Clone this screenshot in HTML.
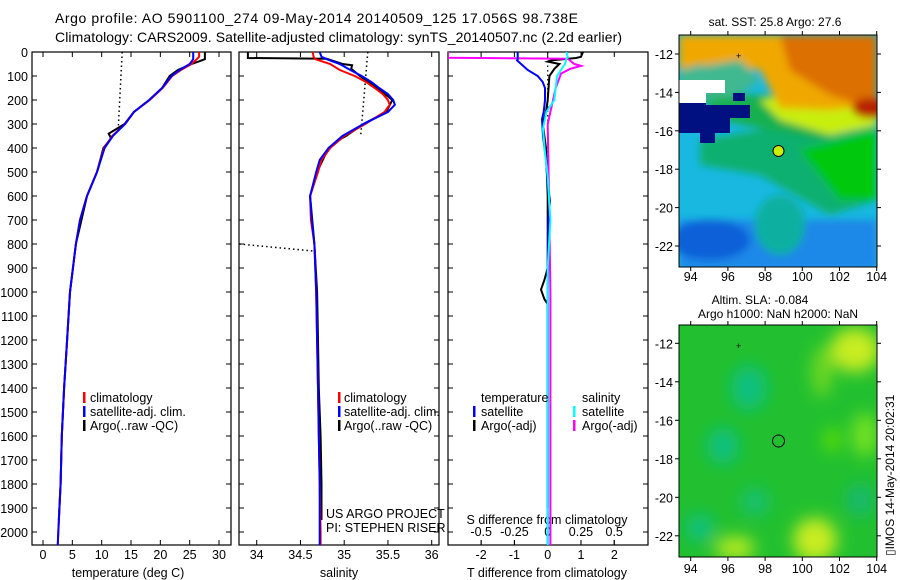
<!DOCTYPE html>
<html><head><meta charset="utf-8"><style>
html,body{margin:0;padding:0;background:#fff;}
svg{display:block;font-family:"Liberation Sans",sans-serif;}
</style></head><body>
<svg id="fig" width="900" height="580" viewBox="0 0 900 580" xmlns="http://www.w3.org/2000/svg">
<defs>
<clipPath id="c1"><rect x="32" y="52" width="199" height="493"/></clipPath>
<clipPath id="c2"><rect x="239" y="52" width="200" height="493"/></clipPath>
<clipPath id="c3"><rect x="448" y="52" width="200" height="493"/></clipPath>
<clipPath id="cm1"><rect x="679" y="35" width="198" height="232"/></clipPath>
<clipPath id="cm2"><rect x="679" y="325" width="198" height="232"/></clipPath>
<filter id="bl" x="-20%" y="-20%" width="140%" height="140%"><feGaussianBlur stdDeviation="4"/></filter>
<filter id="bl2" x="-30%" y="-30%" width="160%" height="160%"><feGaussianBlur stdDeviation="8"/></filter>
</defs>
<text x="55" y="23" font-size="14" textLength="523">Argo profile: AO 5901100_274 09-May-2014 20140509_125 17.056S 98.738E</text>
<text x="55" y="42" font-size="14" textLength="567">Climatology: CARS2009. Satellite-adjusted climatology: synTS_20140507.nc (2.2d earlier)</text>

<!-- SST map -->
<g clip-path="url(#cm1)">
<rect x="679" y="35" width="198" height="232" fill="#18b8e0"/>
<g filter="url(#bl)">
<rect x="679" y="220" width="198" height="50" fill="#1a88e8"/>
<ellipse cx="710" cy="240" rx="40" ry="20" fill="#1060d8"/>
<ellipse cx="780" cy="225" rx="25" ry="30" fill="#10b0a0"/>
<polygon points="700,140 877,110 877,200 830,215 760,175 700,165" fill="#10b070"/>
<polygon points="800,150 877,130 877,200 840,200" fill="#00c810"/>
<polygon points="700,95 780,95 877,90 877,120 820,140 760,128 720,120" fill="#18b050"/>
<polygon points="760,100 877,85 877,125 830,135 780,120" fill="#c8ee10"/>
<polygon points="679,35 877,35 877,105 830,110 780,108 760,70 700,65 679,70" fill="#f0a800"/>
<polygon points="780,35 877,35 877,110 830,95 790,70" fill="#dc7000"/>
<ellipse cx="870" cy="108" rx="18" ry="10" fill="#b82000"/>
<polygon points="679,70 740,60 760,80 740,95 700,100 679,95" fill="#40b890"/>
</g>
<polygon points="679,93 706,93 706,105 750,105 750,118 730,118 730,133 715,133 715,143 700,143 700,133 679,133" fill="#001080"/>
<rect x="679" y="80" width="46" height="13" fill="#ffffff"/>
<rect x="679" y="93" width="27" height="10" fill="#ffffff"/>
<rect x="733" y="93" width="12" height="8" fill="#001080"/>
<circle cx="778.5" cy="151" r="5.5" fill="#c8f000" stroke="#000" stroke-width="1"/>
<text x="736" y="59" font-size="9">+</text>
</g>
<rect x="679" y="35" width="198" height="232" fill="none" stroke="#000"/>
<text x="775" y="26" font-size="12" text-anchor="middle">sat. SST: 25.8 Argo: 27.6</text>

<!-- SLA map -->
<g clip-path="url(#cm2)">
<rect x="679" y="325" width="198" height="232" fill="#22c030"/>
<g filter="url(#bl2)">
<ellipse cx="749" cy="388" rx="18" ry="22" fill="#10c080"/>
<ellipse cx="723" cy="446" rx="16" ry="18" fill="#10c080"/>
<ellipse cx="700" cy="528" rx="14" ry="14" fill="#10c080"/>
<ellipse cx="755" cy="502" rx="14" ry="14" fill="#18c070"/>
<ellipse cx="860" cy="500" rx="14" ry="16" fill="#18b870"/>
<ellipse cx="855" cy="350" rx="25" ry="22" fill="#c8ec20"/>
<ellipse cx="822" cy="372" rx="10" ry="25" fill="#70d820"/>
<ellipse cx="815" cy="540" rx="22" ry="22" fill="#c8ec20"/>
<ellipse cx="735" cy="548" rx="20" ry="12" fill="#b0e820"/>
<ellipse cx="865" cy="435" rx="14" ry="22" fill="#70e020"/>
<ellipse cx="832" cy="440" rx="8" ry="12" fill="#60e000"/>
</g>
<circle cx="778.5" cy="441" r="6" fill="none" stroke="#000" stroke-width="1"/>
<text x="736" y="349" font-size="9">+</text>
</g>
<rect x="679" y="325" width="198" height="232" fill="none" stroke="#000"/>
<text x="760" y="304" font-size="12" text-anchor="middle">Altim. SLA: -0.084</text>
<text x="778" y="318" font-size="12" text-anchor="middle">Argo h1000: NaN h2000: NaN</text>
<text transform="translate(894,556) rotate(-90)" font-size="12">▯IMOS 14-May-2014 20:02:31</text>

<g id="charts"></g>
</svg>
<script>
// ---- data ----
const depthTicks = [0,100,200,300,400,500,600,700,800,900,1000,1100,1200,1300,1400,1500,1600,1700,1800,1900,2000];
const tempTicks = [0,5,10,15,20,25,30];
const salTicks = [34,34.5,35,35.5,36];
const salTickLabels = ["34","34.5","35","35.5","36"];
const tDiffTicks = [-2,-1,0,1,2];
const sDiffTicks = [-0.5,-0.25,0,0.25,0.5];
const sDiffTickLabels = ["-0.5","-0.25","0","0.25","0.5"];
const mapLonTicks = [94,96,98,100,102,104];
const mapLatTicks = [-12,-14,-16,-18,-20,-22];

const tClimDepth = [0,20,30,50,75,100,150,200,250,300,350,400,500,600,700,800,1000,1200,1400,1600,1800,2000,2060];
const tClim = [26.6,26.6,26.2,25.3,23.5,22.0,20.4,18.2,15.5,14.0,11.8,10.4,9.2,7.5,6.3,5.6,4.6,4.1,3.6,3.2,3.0,2.6,2.5];
const tSat = [25.6,25.6,25.6,25.0,23.3,21.9,20.3,18.1,15.5,14.0,11.9,10.5,9.2,7.5,6.3,5.6,4.6,4.1,3.6,3.2,3.0,2.6,2.5];
const tArgoDepth = [0,30,40,50,75,100,150,200,250,300,340,360,400,500,600,800,1000,1200,1400,1600,1800,1950];
const tArgo = [27.6,27.6,26.5,25.3,23.0,21.6,20.3,18.1,15.5,13.9,11.2,11.6,10.3,9.2,7.5,5.6,4.6,4.1,3.6,3.2,3.0,2.7];
const tDotDepth = [0,330];
const tDot = [13.5,12.8];

const sDepth = [0,20,30,50,75,100,125,150,175,200,220,250,300,350,400,450,500,600,700,800,1000,1200,1400,1600,1800,2000,2060];
const sClim = [34.64,34.65,34.67,34.84,34.95,35.12,35.25,35.35,35.44,35.5,35.52,35.46,35.24,35.0,34.84,34.74,34.70,34.61,34.62,34.66,34.68,34.69,34.70,34.71,34.72,34.73,34.73];
const sSat = [34.72,34.74,34.80,34.95,35.07,35.2,35.31,35.4,35.5,35.56,35.58,35.5,35.22,34.98,34.82,34.72,34.68,34.61,34.63,34.66,34.68,34.69,34.70,34.71,34.72,34.72,34.72];
const sArgoDepth = [0,25,28,50,55,70,100,150,200,250,300,350,360,400,500,600,800,1000,1200,1400,1600,1800,1950];
const sArgo = [33.9,33.9,34.8,34.98,35.09,35.08,35.18,35.38,35.55,35.48,35.22,35.02,34.97,34.82,34.69,34.61,34.66,34.69,34.70,34.71,34.73,34.74,34.74];
const sDotDepth = [0,345];
const sDot = [35.27,35.19];
const sDot2Depth = [800,830];
const sDot2 = [33.8,34.67];

const dTSatDepth = [0,30,35,50,75,100,125,150,200,250,280,350,450,550,620,700,825,1000,1500,2060];
const dTSat = [-0.9,-0.9,-0.92,-0.8,-0.6,-0.3,-0.15,-0.08,-0.08,-0.12,-0.17,-0.14,-0.05,0.0,0.07,0.02,0.01,0.0,0.0,0.0];
const dSSatDepth = [0,20,30,50,75,100,150,200,250,320,420,520,700,900,1100,1500,2060];
const dSSat = [0.14,0.15,0.14,0.13,0.1,0.07,0.06,0.05,-0.01,-0.035,-0.02,0.0,0.02,0.0,0.0,0.0,0.0];
const dSArgoDepth = [0,24,25,28,50,58,70,90,150,300,600,1000,1500,2060];
const dSArgo = [-0.75,-0.75,-0.52,0.15,0.2,0.25,0.17,0.1,0.06,0.0,0.01,0.02,0.02,0.02];
const dTArgoDepth = [0,20,25,35,40,50,70,100,200,250,300,400,600,800,900,950,990,1030,1050,1200,1500,1900];
const dTArgo = [1.06,1.0,0.85,0.1,0.0,0.35,0.2,0.05,0.0,-0.05,-0.15,-0.05,0.0,0.0,0.0,-0.1,-0.2,-0.1,0.0,0.0,0.0,0.0];
const zeroDotDepth = [0,750];
const zeroDot = [0,0];

// ---- axes ----
const yD = d => 52 + d * 0.24;
const xT = t => 43 + t * 5.867;
const xS = s => 256.7 + (s - 34) * 87.5;
const xTD = t => 547.7 + t * 33.3;
const xSD = s => 547.7 + s * 133;
const NS = "http://www.w3.org/2000/svg";
const root = document.getElementById('charts');
function mk(tag, attrs, parent) {
  const e = document.createElementNS(NS, tag);
  for (const k in attrs) e.setAttribute(k, attrs[k]);
  (parent || root).appendChild(e);
  return e;
}
function line(vals, depths, xf, color, w, clip, name, dash) {
  const pts = vals.map((v, i) => xf(v).toFixed(1) + ',' + yD(depths[i]).toFixed(1)).join(' ');
  const p = mk('polyline', {points: pts, fill: 'none', stroke: color, 'stroke-width': w, 'clip-path': 'url(#' + clip + ')'});
  if (dash) p.setAttribute('stroke-dasharray', dash);
  
  
}
function txt(x, y, s, size, anchor, name) {
  const t = mk('text', {x: x, y: y, 'font-size': size, 'text-anchor': anchor || 'start'});
  t.textContent = s;
  
  
  return t;
}
function frame(x0, x1, name) {
  const r = mk('rect', {x: x0, y: 52, width: x1 - x0, height: 493, fill: 'none', stroke: '#000', 'stroke-width': 1.2});
  
  
  depthTicks.forEach(d => {
    mk('line', {x1: x0, x2: x0 + 5, y1: yD(d), y2: yD(d), stroke: '#000'});
    mk('line', {x1: x1 - 5, x2: x1, y1: yD(d), y2: yD(d), stroke: '#000'});
  });
}
function xticks(vals, labels, xf, name, ly) {
  vals.forEach((v, i) => {
    const x = xf(v);
    mk('line', {x1: x, x2: x, y1: 545, y2: 540, stroke: '#000'});
    mk('line', {x1: x, x2: x, y1: 52, y2: 57, stroke: '#000'});
    txt(x, ly, labels[i], 12.5, 'middle', name);
  });
}

// panel 1
frame(32, 231, 'temperature-panel-frame');
depthTicks.forEach(d => txt(28, yD(d) + 5, String(d), 12.5, 'end', 'depth-tick-label'));
xticks(tempTicks, tempTicks.map(String), xT, 'temperature-tick-label', 559);
txt(128, 577, 'temperature (deg C)', 12.5, 'middle', 'temperature-axis-title');
line(tDot, tDotDepth, xT, '#000', 1.5, 'c1', 'temperature-mixed-layer-dotted', '1.5,3');
line(tArgo, tArgoDepth, xT, '#000', 2, 'c1', 'temperature-argo-line');
line(tClim, tClimDepth, xT, '#f00', 2, 'c1', 'temperature-climatology-line');
line(tSat, tClimDepth, xT, '#00f', 2, 'c1', 'temperature-satellite-line');

// panel 2
frame(239, 439, 'salinity-panel-frame');
xticks(salTicks, salTickLabels, xS, 'salinity-tick-label', 559);
txt(339, 577, 'salinity', 12.5, 'middle', 'salinity-axis-title');
line(sDot, sDotDepth, xS, '#000', 1.5, 'c2', 'salinity-dotted-line', '1.5,3');
line(sDot2, sDot2Depth, xS, '#000', 1.5, 'c2', 'salinity-dotted-line-deep', '1.5,3');
line(sArgo, sArgoDepth, xS, '#000', 2, 'c2', 'salinity-argo-line');
line(sClim, sDepth, xS, '#f00', 2, 'c2', 'salinity-climatology-line');
line(sSat, sDepth, xS, '#00f', 2, 'c2', 'salinity-satellite-line');
txt(326, 518, 'US ARGO PROJECT', 12.5, 'start', 'project-label');
txt(326, 532, 'PI: STEPHEN RISER', 12.5, 'start', 'pi-label');

// panel 3
frame(448, 648, 'difference-panel-frame');
xticks(tDiffTicks, tDiffTicks.map(String), xTD, 't-diff-tick-label', 559);
sDiffTicks.forEach((v, i) => {
  mk('line', {x1: xSD(v), x2: xSD(v), y1: 540, y2: 545, stroke: '#000'});
  txt(xSD(v), 536, sDiffTickLabels[i], 12.5, 'middle', 's-diff-tick-label');
});
txt(547, 524, 'S difference from climatology', 12.5, 'middle', 's-diff-axis-title');
txt(547, 577, 'T difference from climatology', 12.5, 'middle', 't-diff-axis-title');
line(zeroDot, zeroDotDepth, xTD, '#000', 1.2, 'c3', 'zero-dotted-line', '1.5,3');
line(dTArgo, dTArgoDepth, xTD, '#000', 2, 'c3', 't-diff-argo-line');
line(dSArgo, dSArgoDepth, xSD, '#f0f', 2, 'c3', 's-diff-argo-line');
line(dTSat, dTSatDepth, xTD, '#00f', 2, 'c3', 't-diff-satellite-line');
line(dSSat, dSSatDepth, xSD, '#0ff', 2, 'c3', 's-diff-satellite-line');

// legends
function legend(mx, tx, y, color, label, name) {
  const m = mk('rect', {x: mx, y: y - 10, width: 2.5, height: 11, fill: color});
  
  
  txt(tx, y, label, 12.5, 'start', name);
}
legend(83, 90, 402, '#f00', 'climatology', 'legend-temp-climatology');
legend(83, 90, 416, '#00f', 'satellite-adj. clim.', 'legend-temp-satellite');
legend(83, 90, 430, '#000', 'Argo(..raw -QC)', 'legend-temp-argo');
legend(338, 344, 402, '#f00', 'climatology', 'legend-sal-climatology');
legend(338, 344, 416, '#00f', 'satellite-adj. clim.', 'legend-sal-satellite');
legend(338, 344, 430, '#000', 'Argo(..raw -QC)', 'legend-sal-argo');
txt(481, 402, 'temperature', 12.5, 'start', 'legend-temperature-heading');
txt(582, 402, 'salinity', 12.5, 'start', 'legend-salinity-heading');
legend(473, 481, 416, '#00f', 'satellite', 'legend-tdiff-satellite');
legend(473, 481, 430, '#000', 'Argo(-adj)', 'legend-tdiff-argo');
legend(573, 582, 416, '#0ff', 'satellite', 'legend-sdiff-satellite');
legend(573, 582, 430, '#f0f', 'Argo(-adj)', 'legend-sdiff-argo');

// map axes
const mLon = l => 690.7 + (l - 94) * 18.6;
const mLat1 = la => 54 + (-12 - la) * 19.2;
const mLat2 = la => 343.3 + (-12 - la) * 19.25;
[[mLat1, 35, 267, 281], [mLat2, 325, 557, 573]].forEach(([yf, top, bot, ly]) => {
  mapLonTicks.forEach(l => {
    mk('line', {x1: mLon(l), x2: mLon(l), y1: bot, y2: bot + 4, stroke: '#000'});
    mk('line', {x1: mLon(l), x2: mLon(l), y1: top, y2: top - 4, stroke: '#000'});
    txt(mLon(l), ly, String(l), 12.5, 'middle', 'map-lon-tick-label');
  });
  mapLatTicks.forEach(la => {
    mk('line', {x1: 679, x2: 675, y1: yf(la), y2: yf(la), stroke: '#000'});
    mk('line', {x1: 877, x2: 881, y1: yf(la), y2: yf(la), stroke: '#000'});
    txt(673, yf(la) + 5, String(la), 12.5, 'end', 'map-lat-tick-label');
  });
});
</script>
</body></html>
